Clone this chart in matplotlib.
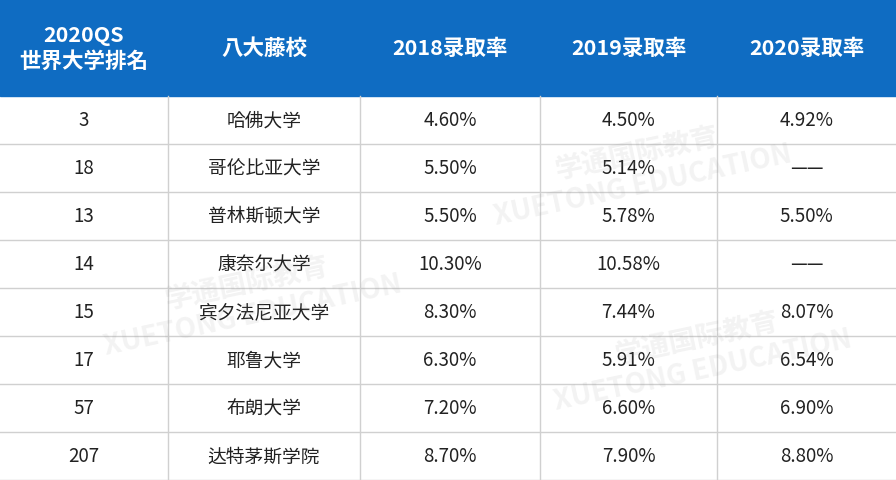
import matplotlib.pyplot as plt
from matplotlib.patches import Rectangle
from matplotlib import font_manager

headers = ['2020QS\n世界大学排名', '八大藤校', '2018录取率', '2019录取率', '2020录取率']
ranks = ['3', '18', '13', '14', '15', '17', '57', '207']
schools = ['哈佛大学', '哥伦比亚大学', '普林斯顿大学', '康奈尔大学',
           '宾夕法尼亚大学', '耶鲁大学', '布朗大学', '达特茅斯学院']
rate_2018 = ['4.60%', '5.50%', '5.50%', '10.30%', '8.30%', '6.30%', '7.20%', '8.70%']
rate_2019 = ['4.50%', '5.14%', '5.78%', '10.58%', '7.44%', '5.91%', '6.60%', '7.90%']
rate_2020 = ['4.92%', '——', '5.50%', '——', '8.07%', '6.54%', '6.90%', '8.80%']

col_edges = [0, 168, 360, 540, 717, 896]
header_h = 97
row_h = 48

names = {f.name for f in font_manager.fontManager.ttflist}
cjk = [n for n in names if 'CJK' in n]
plt.rcParams['font.family'] = ['Noto Sans CJK SC', 'Noto Sans CJK JP'] + sorted(cjk) + ['DejaVu Sans']
fig = plt.figure(figsize=(8.96, 4.81), dpi=100)
ax = fig.add_axes([0, 0, 1, 1])
ax.set_xlim(0, 896)
ax.set_ylim(481, 0)
ax.axis('off')

ax.add_patch(Rectangle((0, 0), 896, header_h, color='#0f6cc2', zorder=0))
for i, h in enumerate(headers):
    cx = (col_edges[i] + col_edges[i + 1]) / 2
    ax.text(cx, header_h / 2, h, ha='center', va='center', color='white',
            fontsize=15.5, fontweight='bold', linespacing=1.25)

columns = [ranks, schools, rate_2018, rate_2019, rate_2020]
for r in range(len(ranks)):
    y0 = header_h + r * row_h
    for c, col in enumerate(columns):
        cx = (col_edges[c] + col_edges[c + 1]) / 2
        ax.text(cx, y0 + row_h / 2, col[r], ha='center', va='center',
                color='#222222', fontsize=13.5)
    ax.plot([0, 896], [y0 + row_h, y0 + row_h], color='#d0d0d0', lw=1)
for x in col_edges[1:-1]:
    ax.plot([x, x], [header_h, 481], color='#d0d0d0', lw=1)

# faint watermarks
for (x, y) in [(640, 170), (250, 300), (700, 355)]:
    ax.text(x, y, '学通国际教育\nXUETONG EDUCATION', ha='center', va='center',
            rotation=12, fontsize=20, color='#999999', alpha=0.12, fontweight='bold')

fig.savefig('out.png', dpi=100)
